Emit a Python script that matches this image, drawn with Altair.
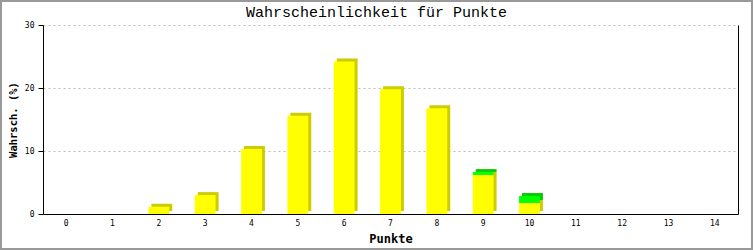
import altair as alt
import pandas as pd

punkte = list(range(15))
gelb = [0, 0, 1.15, 3.0, 10.3, 15.6, 24.2, 19.8, 16.8, 6.2, 1.75, 0, 0, 0, 0]
gruen = [0, 0, 0, 0, 0, 0, 0, 0, 0, 0.45, 1.1, 0, 0, 0, 0]
front_colors = ["#ffff00", "#00ff00"]
back_colors = ["#cccc00", "#00cc00"]

rows = []
for p, g, r in zip(punkte, gelb, gruen):
    rows.append({"Punkte": p, "Wert": g, "Ordnung": 0,
                 "front": front_colors[0], "back": back_colors[0]})
    rows.append({"Punkte": p, "Wert": r, "Ordnung": 1,
                 "front": front_colors[1], "back": back_colors[1]})
df = pd.DataFrame(rows)

W, H = 695, 189
MONO = "DejaVu Sans Mono"

x_enc = alt.X(
    "Punkte:O",
    scale=alt.Scale(paddingInner=0.55, paddingOuter=0.275),
    axis=alt.Axis(title="Punkte", labelAngle=0, ticks=False, domainColor="black",
                  labelFont=MONO, labelFontSize=8, labelColor="black", labelPadding=5,
                  titleFont=MONO, titleFontSize=12, titleFontWeight="bold",
                  titleColor="black", titlePadding=6),
)

y_scale = alt.Scale(domain=[0, 30], nice=False)

y_left = alt.Y(
    "Wert:Q", stack="zero", scale=y_scale,
    axis=alt.Axis(values=[0, 10, 20, 30], title="Wahrsch. (%)", grid=True,
                  gridDash=[2, 3], gridColor="#bbbbbb", tickSize=5, tickColor="black",
                  domainColor="black", labelFont=MONO, labelFontSize=8, labelColor="black",
                  labelPadding=4, titleFont=MONO, titleFontSize=10.5, titleFontWeight="bold",
                  titleColor="black", titlePadding=6),
)
y_right = alt.Y(
    "Wert:Q", stack="zero", scale=y_scale,
    axis=alt.Axis(orient="right", labels=False, ticks=False, grid=False, title=None,
                  domainColor="black"),
)

back = alt.Chart(df).mark_bar(xOffset=3, yOffset=-3).encode(
    x=x_enc, y=y_left,
    color=alt.Color("back:N", scale=None),
    order=alt.Order("Ordnung:Q"),
)
front = alt.Chart(df).mark_bar().encode(
    x=x_enc, y=y_right,
    color=alt.Color("front:N", scale=None),
    order=alt.Order("Ordnung:Q"),
)

border = alt.Chart(alt.Data(values=[{"a": 1}])).mark_rect(
    fill=None, stroke="#999999", strokeWidth=2
).encode(
    x=alt.value(-42), x2=alt.value(709), y=alt.value(-24), y2=alt.value(224)
)

chart = alt.layer(back, front, border).resolve_axis(y="independent").properties(
    width=W, height=H,
    title=alt.TitleParams("Wahrscheinlichkeit für Punkte", font="Liberation Mono",
                          fontSize=15, fontWeight="normal", color="black",
                          anchor="middle", dx=-14, offset=-20),
    autosize=alt.AutoSizeParams(type="none"),
    padding={"left": 43, "top": 25, "right": 15, "bottom": 36},
    background="white",
).configure_view(stroke=None)

chart.save("out.html", embed_options={"renderer": "svg", "actions": False})
